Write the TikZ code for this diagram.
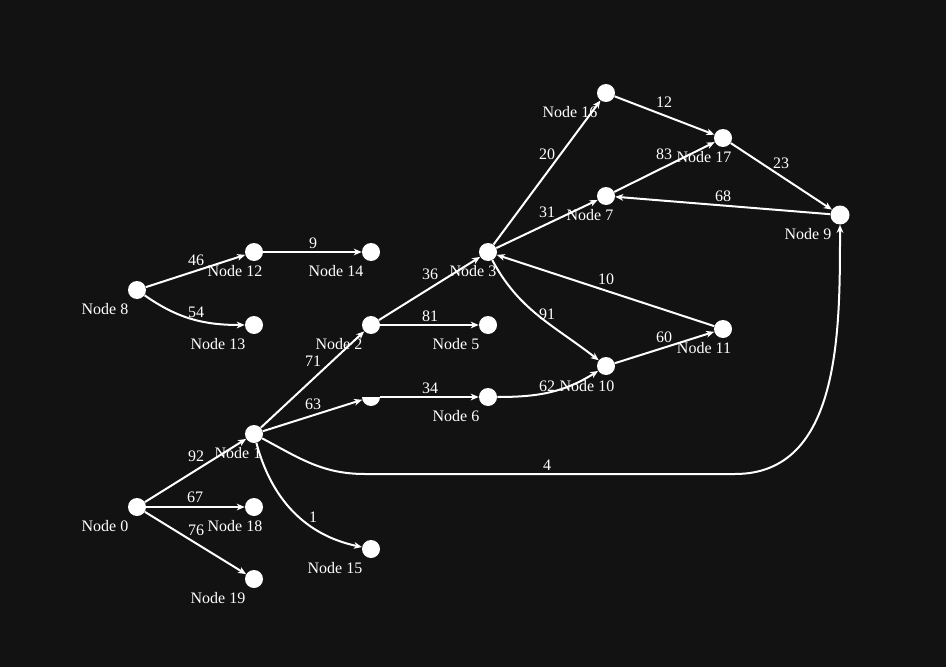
\documentclass[tikz,border=0pt]{standalone}
\usepackage{fontspec}
\setmainfont{Liberation Serif}
\usetikzlibrary{arrows.meta,calc}
\definecolor{bg}{HTML}{121212}
\tikzset{
  vert/.style={circle,fill=white,minimum size=13.5pt,inner sep=0pt},
  vlab/.style={text=white,font=\fontsize{12pt}{14pt}\selectfont,inner sep=0pt},
  elab/.style={text=white,font=\fontsize{12pt}{14pt}\selectfont,inner sep=0pt},
  edge/.style={draw=white,line width=1.5pt,-{Stealth[length=6pt,width=5pt,inset=1.8pt]}},
}
\begin{document}
\begin{tikzpicture}[x=0.75pt,y=-0.75pt]
\fill[bg] (0,0) rectangle (946,667);
\useasboundingbox (0,0) rectangle (946,667);
% vertices
\node[vert] (n0) at (137,507) {};
\node[vert] (n1) at (254,434) {};
\node[vert] (n2) at (371,325) {};
\node[vert] (n3) at (488,252) {};
\node[circle,minimum size=13.5pt,inner sep=0pt] (n4) at (371,397) {};
\node[vert] (n5) at (488,325) {};
\node[vert] (n6) at (488,397) {};
\node[vert] (n7) at (606,196) {};
\node[vert] (n8) at (137,290) {};
\node[vert,minimum size=14.25pt] (n9) at (840,215) {};
\node[vert] (n10) at (606,366) {};
\node[vert] (n11) at (723,329) {};
\node[vert] (n12) at (254,252) {};
\node[vert] (n13) at (254,325) {};
\node[vert] (n14) at (371,252) {};
\node[vert] (n15) at (371,549) {};
\node[vert] (n16) at (606,93) {};
\node[vert] (n17) at (723,138) {};
\node[vert] (n18) at (254,507) {};
\node[vert] (n19) at (254,579) {};
\coordinate (c1a) at (365,474);
\coordinate (c1b) at (735,474);
% edges
\draw[edge] (n0) -- (n1);
\draw[edge] (n0) -- (n18);
\draw[edge] (n0) -- (n19);
\draw[edge] (n1) -- (n2);
\draw[edge] (n1) -- (n4);
\draw[edge] (n1) to[out=-28,in=180] (c1a) -- (c1b) to[out=0,in=-90] (n9);
\draw[edge] (n1) to[out=-75,in=168] (n15);
\draw[edge] (n2) -- (n3);
\draw[edge] (n2) -- (n5);
\draw[edge] (n3) -- (n16);
\draw[edge] (n3) -- (n7);
\draw[edge] (n3) to[out=-62,in=142] (n10);
\draw[edge] (n4) -- (n6);
\draw[edge] (n6) to[out=0,in=-148] (n10);
\draw[edge] (n7) -- (n17);
\draw[edge] (n8) -- (n12);
\draw[edge] (n8) to[out=-35,in=180] (n13);
\draw[edge] (n9) -- (n7);
\draw[edge] (n10) -- (n11);
\draw[edge] (n11) -- (n3);
\draw[edge] (n12) -- (n14);
\draw[edge] (n16) -- (n17);
\draw[edge] (n17) -- (n9);
% node 4 (half visible)
\fill[white] ($(n4.center)+(-9,0)$) arc[start angle=180,end angle=360,radius=6.75pt] -- cycle;
% vertex labels
\node[vlab] (l0) at (105,526) {Node 0};
\node[vlab] (l1) at (238,453) {Node 1};
\node[vlab] (l2) at (339,344) {Node 2};
\node[vlab] (l3) at (473,271) {Node 3};
\node[vlab] (l5) at (456,344) {Node 5};
\node[vlab] (l6) at (456,416) {Node 6};
\node[vlab] (l7) at (590,215) {Node 7};
\node[vlab] (l8) at (105,309) {Node 8};
\node[vlab] (l9) at (808,234) {Node 9};
\node[vlab] (l10) at (587,386) {Node 10};
\node[vlab] (l11) at (704,348) {Node 11};
\node[vlab] (l12) at (235,271) {Node 12};
\node[vlab] (l13) at (218,344) {Node 13};
\node[vlab] (l14) at (336,271) {Node 14};
\node[vlab] (l15) at (335,568) {Node 15};
\node[vlab] (l16) at (570,112) {Node 16};
\node[vlab] (l17) at (704,157) {Node 17};
\node[vlab] (l18) at (235,526) {Node 18};
\node[vlab] (l19) at (218,598) {Node 19};
% edge labels
\node[elab] (e92) at (196,456) {92};
\node[elab] (e67) at (195,497) {67};
\node[elab] (e76) at (196,530) {76};
\node[elab] (e71) at (313,361) {71};
\node[elab] (e63) at (313,404) {63};
\node[elab] (e4) at (547,465) {4};
\node[elab] (e1) at (313,517) {1};
\node[elab] (e36) at (430,274) {36};
\node[elab] (e81) at (430,316) {81};
\node[elab] (e20) at (547,154) {20};
\node[elab] (e31) at (547,212) {31};
\node[elab] (e91) at (547,314) {91};
\node[elab] (e34) at (430,388) {34};
\node[elab] (e62) at (547,386) {62};
\node[elab] (e83) at (664,154) {83};
\node[elab] (e46) at (196,260) {46};
\node[elab] (e54) at (196,312) {54};
\node[elab] (e68) at (723,196) {68};
\node[elab] (e60) at (664,337) {60};
\node[elab] (e10) at (606,279) {10};
\node[elab] (e9) at (313,243) {9};
\node[elab] (e12) at (664,102) {12};
\node[elab] (e23) at (781,163) {23};
\end{tikzpicture}
\end{document}
